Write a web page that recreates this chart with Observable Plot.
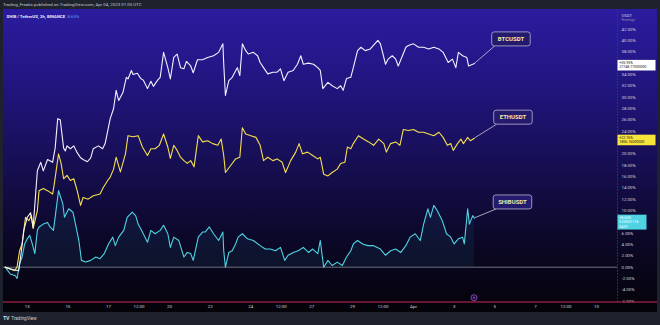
<!DOCTYPE html>
<html><head><meta charset="utf-8">
<script src="https://cdn.jsdelivr.net/npm/d3@7"></script>
<script src="https://cdn.jsdelivr.net/npm/@observablehq/plot@0.6"></script>
<style>
html,body{margin:0;padding:0;background:#1e222d;width:660px;height:325px;overflow:hidden;font-family:Roboto,"Liberation Sans",sans-serif;}
#top{position:absolute;left:3px;top:0;height:9px;font-size:4.4px;line-height:9px;color:#c3c6ce;white-space:nowrap;}
#chart{position:absolute;left:3px;top:9px;width:654px;height:303px;background:linear-gradient(#2b1c9f 0%,#21157f 25%,#170f55 50%,#0c0829 75%,#040308 100%);}
#foot{position:absolute;left:3px;top:312px;height:13px;font-size:4.6px;line-height:13px;color:#d1d4dc;white-space:nowrap;}
#foot b{font-size:5.4px;margin-right:2px;letter-spacing:-0.3px;}
</style></head>
<body>
<div id="top">Trading_Freaks published on TradingView.com, Apr 04, 2023 01:05 UTC</div>
<div id="chart"></div>
<div id="foot"><b>TV</b>TradingView</div>
<script>
// ---- data (percent change since start, 2h bars, UTC "MM-DD HH") ----
const btcTimes = ["03-11 22","03-12 04","03-12 09","03-12 14","03-12 16","03-12 20","03-13 00","03-13 04","03-13 07","03-13 12","03-13 16","03-13 19","03-14 00","03-14 06","03-14 09","03-14 12","03-14 15","03-14 19","03-14 21","03-14 23","03-15 03","03-15 07","03-15 11","03-15 15","03-15 18","03-15 23","03-16 03","03-16 06","03-16 12","03-16 17","03-16 20","03-16 23","03-17 02","03-17 06","03-17 09","03-17 12","03-17 17","03-17 21","03-17 23","03-18 03","03-18 05","03-18 10","03-18 14","03-18 17","03-18 22","03-19 02","03-19 05","03-19 10","03-19 13","03-19 17","03-19 22","03-20 01","03-20 05","03-20 09","03-20 13","03-20 17","03-20 20","03-21 01","03-21 04","03-21 09","03-21 15","03-21 21","03-22 04","03-22 10","03-22 15","03-22 16","03-22 18","03-22 22","03-23 02","03-23 08","03-23 11","03-23 14","03-23 18","03-23 21","03-24 03","03-24 08","03-24 11","03-24 15","03-24 20","03-25 02","03-25 07","03-25 11","03-25 15","03-25 20","03-26 02","03-26 07","03-26 11","03-26 14","03-26 20","03-27 02","03-27 07","03-27 10","03-27 13","03-27 19","03-28 00","03-28 06","03-28 10","03-28 13","03-28 17","03-28 22","03-29 01","03-29 06","03-29 10","03-29 15","03-29 21","03-30 06","03-30 09","03-30 13","03-30 15","03-30 18","03-30 23","03-31 03","03-31 06","03-31 11","03-31 15","03-31 18","04-01 00","04-01 06","04-01 12","04-01 18","04-02 00","04-02 06","04-02 11","04-02 17","04-02 22","04-03 02","04-03 05","04-03 10","04-03 15","04-03 17","04-03 22","04-04 00"];
const btcValues = [0,-0.3,-0.5,-0.6,1.5,6.5,8.8,9.6,7,17,18.5,17,19,18.5,21,26.2,26,21,20.5,21.4,20.9,21.4,20.2,19.3,19,18.6,19.3,20.9,21.4,20.9,21.8,24,26.2,28,31.2,29.4,30.8,33.5,33.2,34.7,34,34.2,33.3,33,31.5,32.8,31.9,33,33.5,37.9,35.2,33.2,37,37.6,35.2,35,36.3,35.5,34.3,36.6,36.6,37,37.3,37.9,39.4,35.9,30.3,32.9,33.5,35.2,33.8,39.4,38.2,37.6,37.9,37.3,36.1,35.2,34.1,34.4,34.4,35,32.9,34.4,34.7,35.8,37.3,35.8,36,35.8,35.2,34.7,31.5,32.6,32,31.5,32,31.2,33.3,33.5,35.2,38.2,38.8,38.2,38.5,40,39.4,37,35.8,36.7,37.3,36.7,35.5,37.3,38.8,39.1,39.4,38.8,38.8,38.5,38.8,38.5,37.9,36.1,36.7,35.2,37.9,37.3,37,35.5,35.8,35.95];

const ethTimes = ["03-11 22","03-12 04","03-12 09","03-12 12","03-12 15","03-12 18","03-12 22","03-13 02","03-13 05","03-13 07","03-13 12","03-13 14","03-13 19","03-14 00","03-14 06","03-14 08","03-14 13","03-14 16","03-14 19","03-14 23","03-15 03","03-15 07","03-15 11","03-15 15","03-15 18","03-16 00","03-16 06","03-16 14","03-16 18","03-16 23","03-17 02","03-17 06","03-17 09","03-17 14","03-17 20","03-17 23","03-18 05","03-18 11","03-18 16","03-18 22","03-19 02","03-19 07","03-19 12","03-19 17","03-19 22","03-20 01","03-20 05","03-20 09","03-20 13","03-20 17","03-20 21","03-21 01","03-21 05","03-21 10","03-21 15","03-21 21","03-22 03","03-22 09","03-22 13","03-22 16","03-22 18","03-23 00","03-23 06","03-23 11","03-23 14","03-23 18","03-24 00","03-24 06","03-24 11","03-24 15","03-24 20","03-25 02","03-25 07","03-25 13","03-25 17","03-25 23","03-26 05","03-26 09","03-26 13","03-26 19","03-27 01","03-27 07","03-27 10","03-27 14","03-27 19","03-28 00","03-28 06","03-28 10","03-28 15","03-28 18","03-28 22","03-29 01","03-29 07","03-29 13","03-29 19","03-30 01","03-30 07","03-30 13","03-30 16","03-30 21","03-31 03","03-31 08","03-31 12","03-31 18","04-01 00","04-01 06","04-01 12","04-01 18","04-02 00","04-02 06","04-02 11","04-02 16","04-02 20","04-02 23","04-03 04","04-03 08","04-03 11","04-03 16","04-03 19","04-04 00"];
const ethValues = [0,-0.3,-0.6,0,2.9,4.1,8.8,8.2,9.1,6.8,10,13.5,13.9,13.5,12.9,14.7,20,18.3,15.6,16.2,15.3,15.6,13.5,10.9,12.3,12,12.6,12.9,14.1,15.3,15.9,17.3,19.4,16.8,20,23.2,23,23.2,21.2,19.7,20.9,20.9,21.5,23.5,21.2,19.2,21.5,20.6,19.4,18.8,18.3,18.8,17.7,23.2,22.1,22.3,21.8,21.5,22.6,19.7,16.7,17.9,19.1,19.4,24.6,23.5,23.2,22.9,21.5,18.8,19.4,18.8,19.1,18.5,16.7,18.8,20.3,21.8,20,20.3,19.7,19.1,19.4,16.4,16.1,16.7,17.3,18.3,18.5,21.2,20.9,21.8,23.2,22.6,22.1,21.5,22.6,21.8,20.3,21.8,22.1,21.5,24.3,24.1,24.3,23.8,23.8,23.5,23.2,23.8,22.9,21.5,21.8,20.6,21.8,22.6,21.8,22.9,22.3,22.76];

const shibTimes = ["03-11 22","03-12 04","03-12 10","03-12 12","03-12 15","03-12 18","03-12 21","03-13 00","03-13 03","03-13 06","03-13 09","03-13 12","03-13 14","03-13 19","03-14 00","03-14 03","03-14 07","03-14 13","03-14 18","03-14 20","03-15 01","03-15 06","03-15 09","03-15 13","03-15 16","03-15 21","03-16 03","03-16 09","03-16 14","03-16 19","03-17 00","03-17 05","03-17 08","03-17 12","03-17 18","03-17 22","03-18 04","03-18 08","03-18 11","03-18 16","03-18 22","03-19 02","03-19 07","03-19 13","03-19 17","03-19 22","03-20 01","03-20 05","03-20 11","03-20 17","03-20 21","03-21 01","03-21 04","03-21 10","03-21 15","03-21 18","03-21 23","03-22 04","03-22 10","03-22 15","03-22 16","03-22 18","03-22 22","03-23 02","03-23 06","03-23 09","03-23 14","03-23 20","03-24 03","03-24 11","03-24 17","03-24 23","03-25 05","03-25 11","03-25 16","03-25 20","03-26 02","03-26 08","03-26 14","03-26 20","03-27 01","03-27 07","03-27 10","03-27 14","03-27 19","03-28 00","03-28 06","03-28 12","03-28 17","03-28 22","03-29 01","03-29 06","03-29 12","03-29 18","03-30 01","03-30 09","03-30 15","03-30 21","03-31 03","03-31 09","03-31 15","03-31 20","04-01 02","04-01 08","04-01 12","04-01 17","04-01 20","04-02 00","04-02 04","04-02 10","04-02 15","04-02 20","04-03 00","04-03 05","04-03 10","04-03 12","04-03 16","04-03 18","04-03 22","04-04 00"];
const shibValues = [0,-1.2,-1.5,-2,0.6,1.8,4.1,5,5.6,4.1,2.4,6.5,7.1,7.6,7.9,7.1,6.5,13.5,11.2,8.8,10.3,9.7,7.6,4.7,1.2,0.9,1.2,1.8,1.5,2.4,4.1,5.3,3.8,5.3,6.5,8.8,9.7,9.1,7.6,6.2,4.4,6.5,5.9,6.5,7.4,5.9,3.5,5.3,4.7,1.8,2.6,2.4,1.2,5.3,6.2,6.2,7.1,5.9,4.7,6.2,2.9,0,2.6,2.9,4.1,5.3,5.9,5,4.7,3.8,3.2,3.2,2.9,3.5,1.2,2.1,2.6,2.9,3.5,2.6,3.2,2.4,4.7,0,1.2,0.3,0.9,0.3,1.8,2.9,4.1,4.7,4.1,3.8,3.8,3.2,2.1,2.9,3.2,2.6,3.8,5.3,5.9,4.7,7.6,10.3,8.8,10.9,10,8.2,5.9,5.3,4.1,5,5.3,4.1,10.3,7.6,9.1,8.65];

const seriesNames = ["BTCUSDT","ETHUSDT","SHIBUSDT"];
const lastPrices = ["27748.77000000","1806.16000000","0.00001118"];
const lastChange = ["+35.95%","+22.76%","+8.65%"];
const barCountdown = "54:01";
const yTicks = [42,40,38,36,34,32,30,28,26,24,22,20,18,16,14,12,10,8,6,4,2,0,-2,-4,-6];
const xTickTimes = ["03-13 00","03-15 00","03-17 00","03-18 12","03-20 00","03-22 00","03-24 00","03-25 12","03-27 00","03-29 00","03-30 12","04-01 00","04-03 00","04-05 00","04-07 00","04-08 12","04-10 00"];
const xTickLabels = ["13","15","17","12:00","20","22","24","12:00","27","29","12:00","Apr","3","5","7","12:00","10"];
const xDomainTimes = ["03-12 00","04-11 00"];

// ---- build ----
const parse = s => d3.utcParse("%Y-%m-%d %H")("2023-" + s);
const rows = (times, values, name) => times.map((t, i) => ({date: parse(t), value: values[i], name}));
const btc = rows(btcTimes, btcValues, seriesNames[0]);
const eth = rows(ethTimes, ethValues, seriesNames[1]);
const shib = rows(shibTimes, shibValues, seriesNames[2]);
const xTicks = xTickTimes.map((t, i) => ({date: parse(t), label: xTickLabels[i]}));
const allSeries = [btc, eth, shib];

const colors = ["#f4f1ff", "#f6df4c", "#4fd2e2"];
const boxFills = ["#ffffff", "#f7e53a", "#4fd2e2"];
const boxText = ["#131722", "#131722", "#ffffff"];
const calloutOffsets = [[37, -24], [39, -20.5], [38.5, -15.7]];

// price-label line sets (the label box hides the axis ticks behind it, like TradingView)
const labelLines = [[lastChange[0], lastPrices[0]], [lastChange[1], lastPrices[1]], [lastChange[2], lastPrices[2], barCountdown]];
const yRange = [291.7, 19.6];
const yScale = d3.scaleLinear([yTicks[yTicks.length - 1], yTicks[0]], yRange);
const boxSpans = allSeries.map((s, k) => {
  const py = yScale(s[s.length - 1].value);
  return [py - 3, py - 3 + 2 + labelLines[k].length * 4.3];
});
const visibleYTicks = yTicks.filter(t => {
  const py = yScale(t);
  return !boxSpans.some(([a, b]) => py > a - 2.2 && py < b + 2.2);
});

function overlay(index, scales, values, dims) {
  const {x, y} = scales;
  const W = dims.width, H = dims.height;
  const axisX = W - dims.marginRight, bottom = H - dims.marginBottom;
  const g = d3.create("svg:g").attr("text-anchor", "start");
  g.append("line").attr("x1", axisX + 0.5).attr("x2", axisX + 0.5).attr("y1", 0).attr("y2", bottom)
    .attr("stroke", "#6a2a66").attr("stroke-width", 0.7).attr("stroke-dasharray", "2,1");
  g.append("line").attr("x1", 0).attr("x2", W).attr("y1", bottom).attr("y2", bottom)
    .attr("stroke", "#8c1d3e").attr("stroke-width", 1.3);
  allSeries.forEach((s, k) => {
    const last = s[s.length - 1];
    const px = x(last.date), py = y(last.value);
    const [ox, oy] = calloutOffsets[k];
    const w = 38.5, h = 14;
    const bx = px + ox - w / 2, by = py + oy - h / 2;
    g.append("line").attr("x1", px + 1).attr("y1", py).attr("x2", bx + 3).attr("y2", by + h)
      .attr("stroke", "#c9c6dc").attr("stroke-width", 0.8);
    g.append("rect").attr("x", bx).attr("y", by).attr("width", w).attr("height", h).attr("rx", 2.5)
      .attr("fill", "#241a6e").attr("stroke", "#b9b6cf").attr("stroke-width", 0.8);
    g.append("text").attr("x", bx + w / 2).attr("y", by + h / 2).attr("dy", "0.36em")
      .attr("text-anchor", "middle").attr("font-size", 6).attr("font-weight", 700)
      .attr("fill", "#f6e7a6").text(seriesNames[k]);
    const lines = labelLines[k];
    const bw = k === 2 ? 29 : 38;
    const top = py - 3;
    g.append("rect").attr("x", axisX + 0.5).attr("y", top).attr("width", bw).attr("height", 2 + lines.length * 4.3)
      .attr("fill", boxFills[k]);
    lines.forEach((t, j) => {
      g.append("text").attr("x", axisX + 2.2).attr("y", top + 4.3 + j * 4.3).attr("text-anchor", "start")
        .attr("font-size", 3.6).attr("fill", boxText[k]).text(t);
    });
  });
  const ix = x(btc[btc.length - 1].date), iy = bottom - 4.3;
  g.append("circle").attr("cx", ix).attr("cy", iy).attr("r", 3).attr("fill", "#1a0d33").attr("stroke", "#9b4fd0").attr("stroke-width", 0.8);
  g.append("circle").attr("cx", ix).attr("cy", iy).attr("r", 0.9).attr("fill", "#9b4fd0");
  return g.node();
}

const chart = Plot.plot({
  width: 654,
  height: 303,
  marginLeft: 0,
  marginRight: 40,
  marginTop: 0,
  marginBottom: 10,
  style: {background: "transparent", fontFamily: "Roboto, 'Liberation Sans', sans-serif", overflow: "visible"},
  x: {type: "utc", domain: xDomainTimes.map(parse), range: [3.37, 613.27], axis: null},
  y: {domain: [yTicks[yTicks.length - 1], yTicks[0]], range: yRange, axis: null},
  marks: [
    Plot.areaY(shib, {x: "date", y: "value", fill: "#3fc7e0", fillOpacity: 0.07}),
    Plot.ruleY([0], {stroke: "#a9adbb", strokeWidth: 0.8, strokeOpacity: 0.8}),
    Plot.line(shib, {x: "date", y: "value", stroke: colors[2], strokeWidth: 1.1}),
    Plot.line(eth, {x: "date", y: "value", stroke: colors[1], strokeWidth: 1.1}),
    Plot.line(btc, {x: "date", y: "value", stroke: colors[0], strokeWidth: 1.1}),
    Plot.text(visibleYTicks, {y: d => d, text: d => d.toFixed(2) + "%", frameAnchor: "right", dx: 4, textAnchor: "start", fontSize: 4.4, fill: "#d1d4dc"}),
    Plot.text(xTicks, {x: "date", text: "label", frameAnchor: "bottom", dy: 5, fontSize: 4.4, fill: "#d1d4dc"}),
    Plot.text(["SHIB / TetherUS, 2h, BINANCE"], {frameAnchor: "top-left", dx: 3, dy: 5, textAnchor: "start", fontSize: 4.3, fontWeight: 700, fill: "#e6e6f2"}),
    Plot.text([lastChange[2].slice(1)], {frameAnchor: "top-left", dx: 64, dy: 5, textAnchor: "start", fontSize: 4.3, fill: "#5ea2ff"}),
    Plot.text(["USDT"], {frameAnchor: "top-right", dx: 4, dy: 5, textAnchor: "start", fontSize: 4.2, fill: "#d1d4dc"}),
    Plot.text(["Percentage"], {frameAnchor: "top-right", dx: 4, dy: 10, textAnchor: "start", fontSize: 2.6, fill: "#8e92a3"}),
    overlay
  ]
});
document.getElementById("chart").appendChild(chart);
</script>
</body></html>
